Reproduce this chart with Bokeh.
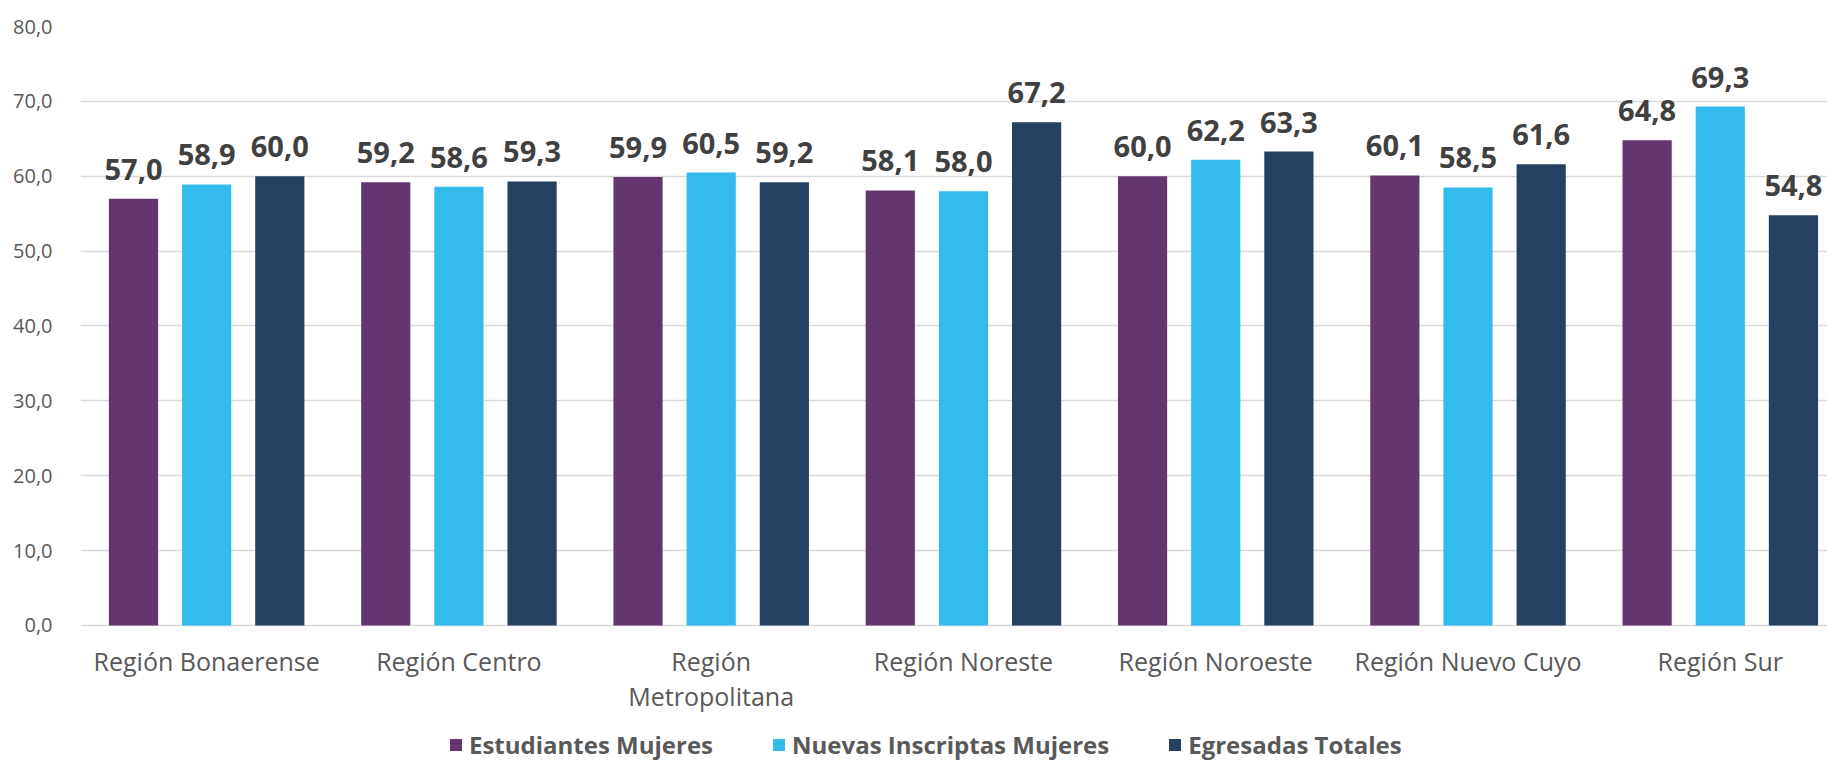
from bokeh.plotting import figure
from bokeh.models import ColumnDataSource, FixedTicker, Legend, LegendItem, Range1d, LabelSet
from bokeh.core.properties import value
from bokeh.embed import file_html
from bokeh.resources import INLINE

regions = ["Región Bonaerense", "Región Centro", "Región\nMetropolitana", "Región Noreste",
           "Región Noroeste", "Región Nuevo Cuyo", "Región Sur"]
series = ["Estudiantes Mujeres", "Nuevas Inscriptas Mujeres", "Egresadas Totales"]
estudiantes = [57.0, 59.2, 59.9, 58.1, 60.0, 60.1, 64.8]
nuevas = [58.9, 58.6, 60.5, 58.0, 62.2, 58.5, 69.3]
egresadas = [60.0, 59.3, 59.2, 67.2, 63.3, 61.6, 54.8]
y_ticks = [0, 10, 20, 30, 40, 50, 60, 70, 80]

colors = ["#63366F", "#32BBEB", "#264061"]
offsets = [-0.29, 0.0, 0.29]
bar_w = 0.195
FONT = "Open Sans"

def fmt(v):
    return f"{v:.1f}".replace(".", ",")

# the frame reaches down to the page bottom so the category labels and legend live inside it
p = figure(frame_width=1747, frame_height=736, output_backend="svg", toolbar_location=None,
           x_range=Range1d(-0.5, 6.425), y_range=Range1d(-18.3, 80),
           x_axis_location=None,
           min_border_left=80, min_border_right=0, min_border_top=26, min_border_bottom=0)
p.outline_line_color = None
p.background_fill_color = "white"
p.border_fill_color = "white"

renderers = []
for vals, col, off, name in zip([estudiantes, nuevas, egresadas], colors, offsets, series):
    xs = [i + off for i in range(len(regions))]
    src = ColumnDataSource(dict(x=xs, top=vals, label=[fmt(v) for v in vals]))
    r = p.vbar(x="x", top="top", width=bar_w, bottom=0, source=src, fill_color=col, line_color=None)
    renderers.append(r)
    p.add_layout(LabelSet(x="x", y="top", text="label", source=src, text_align="center",
                          text_baseline="alphabetic", y_offset=19,
                          text_font=value(FONT), text_font_style="bold",
                          text_font_size="29px", text_color="#404040"))

# category labels under the zero line (each line centred on its own)
lines1 = [r.split("\n")[0] for r in regions]
lines2 = [r.split("\n")[1] if "\n" in r else "" for r in regions]
for texts, off in ((lines1, -19), (lines2, -54)):
    cat_src = ColumnDataSource(dict(x=list(range(len(regions))), y=[0] * len(regions), text=texts))
    p.add_layout(LabelSet(x="x", y="y", text="text", source=cat_src, text_align="center",
                          text_baseline="top", y_offset=off,
                          text_font=value(FONT), text_font_size="25px", text_color="#595959"))

p.yaxis.ticker = FixedTicker(ticks=y_ticks)
p.yaxis.major_label_overrides = {t: fmt(t) for t in y_ticks}
p.yaxis.major_label_text_font = FONT
p.yaxis.major_label_text_font_size = "20px"
p.yaxis.major_label_text_color = "#595959"
p.yaxis.major_label_standoff = 22
p.yaxis.major_tick_line_color = None
p.yaxis.minor_tick_line_color = None
p.yaxis.axis_line_color = None

p.xgrid.grid_line_color = None
p.ygrid.ticker = FixedTicker(ticks=y_ticks)
p.ygrid.grid_line_color = "#D9D9D9"
p.ygrid.grid_line_width = 1.5

legend = Legend(items=[LegendItem(label=n, renderers=[r]) for n, r in zip(series, renderers)],
                orientation="horizontal", location=(368, 1),
                label_text_font=FONT, label_text_font_style="bold", label_text_font_size="24px",
                label_text_color="#595959", glyph_width=15, glyph_height=15,
                label_standoff=6, spacing=58, padding=0, margin=0,
                border_line_color=None, background_fill_alpha=0)
p.add_layout(legend)

open("out.html", "w").write(file_html(p, INLINE))
